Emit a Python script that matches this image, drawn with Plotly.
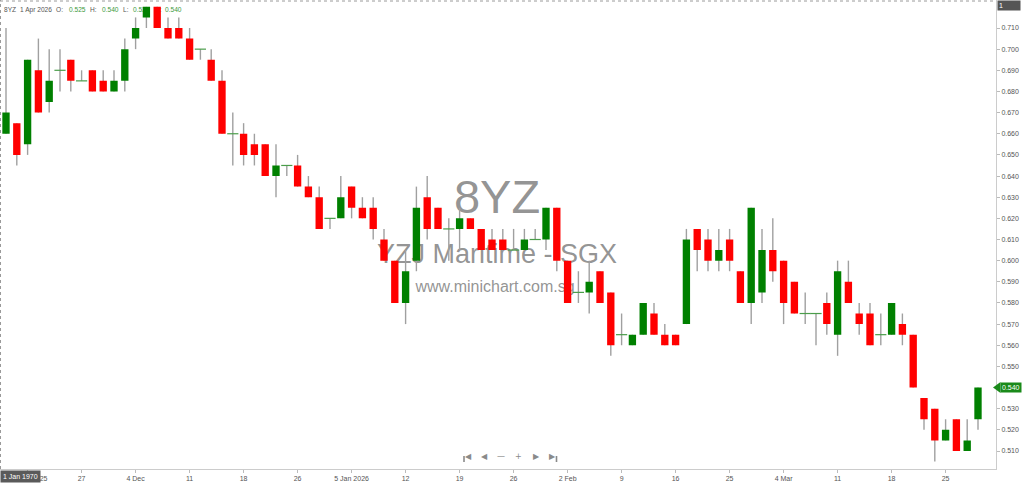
import plotly.graph_objects as go

# ---------------- data ----------------
opens = [0.660, 0.665, 0.655, 0.690, 0.675, 0.690, 0.695, 0.685, 0.690, 0.685,
         0.680, 0.685, 0.705, 0.715, 0.720, 0.710, 0.710, 0.705, 0.700, 0.695,
         0.685, 0.660, 0.660, 0.655, 0.655, 0.640, 0.645, 0.645, 0.635, 0.630,
         0.620, 0.620, 0.635, 0.625, 0.625, 0.610, 0.600, 0.580, 0.600, 0.630,
         0.625, 0.615, 0.615, 0.620, 0.615, 0.610, 0.610, 0.605, 0.605, 0.610,
         0.610, 0.625, 0.600, 0.585, 0.585, 0.595, 0.585, 0.565, 0.560, 0.565,
         0.575, 0.565, 0.565, 0.570, 0.615, 0.610, 0.600, 0.610, 0.595, 0.580,
         0.585, 0.605, 0.600, 0.590, 0.575, 0.575, 0.580, 0.565, 0.590, 0.575,
         0.575, 0.565, 0.565, 0.570, 0.565, 0.535, 0.530, 0.515, 0.525, 0.510,
         0.525]
highs = [0.710, 0.665, 0.695, 0.705, 0.700, 0.700, 0.695, 0.690, 0.690, 0.690,
         0.690, 0.705, 0.715, 0.720, 0.720, 0.715, 0.715, 0.710, 0.700, 0.700,
         0.690, 0.670, 0.665, 0.660, 0.655, 0.655, 0.645, 0.650, 0.640, 0.635,
         0.620, 0.640, 0.635, 0.630, 0.630, 0.615, 0.600, 0.605, 0.635, 0.640,
         0.625, 0.620, 0.625, 0.620, 0.615, 0.615, 0.615, 0.615, 0.615, 0.615,
         0.625, 0.625, 0.600, 0.595, 0.600, 0.595, 0.585, 0.575, 0.565, 0.580,
         0.580, 0.570, 0.565, 0.615, 0.615, 0.615, 0.615, 0.615, 0.595, 0.625,
         0.615, 0.620, 0.600, 0.590, 0.585, 0.575, 0.585, 0.600, 0.600, 0.580,
         0.580, 0.575, 0.580, 0.575, 0.565, 0.535, 0.530, 0.525, 0.525, 0.525,
         0.540]
lows = [0.660, 0.645, 0.650, 0.670, 0.670, 0.680, 0.680, 0.685, 0.680, 0.680,
        0.680, 0.680, 0.700, 0.710, 0.710, 0.705, 0.705, 0.695, 0.695, 0.685,
        0.660, 0.645, 0.645, 0.645, 0.640, 0.630, 0.640, 0.635, 0.630, 0.615,
        0.615, 0.620, 0.620, 0.620, 0.610, 0.600, 0.580, 0.570, 0.595, 0.610,
        0.615, 0.600, 0.605, 0.615, 0.605, 0.605, 0.605, 0.605, 0.605, 0.610,
        0.605, 0.595, 0.580, 0.580, 0.575, 0.580, 0.555, 0.560, 0.560, 0.565,
        0.565, 0.560, 0.560, 0.570, 0.595, 0.595, 0.595, 0.595, 0.580, 0.570,
        0.580, 0.590, 0.570, 0.575, 0.570, 0.560, 0.565, 0.555, 0.580, 0.565,
        0.560, 0.560, 0.565, 0.560, 0.540, 0.520, 0.505, 0.515, 0.510, 0.510,
        0.520]
closes = [0.670, 0.650, 0.695, 0.670, 0.685, 0.690, 0.685, 0.685, 0.680, 0.680,
          0.685, 0.700, 0.710, 0.720, 0.710, 0.705, 0.705, 0.695, 0.700, 0.685,
          0.660, 0.660, 0.650, 0.650, 0.640, 0.645, 0.645, 0.635, 0.630, 0.615,
          0.620, 0.630, 0.625, 0.620, 0.615, 0.600, 0.580, 0.595, 0.625, 0.615,
          0.615, 0.615, 0.620, 0.615, 0.605, 0.605, 0.605, 0.605, 0.610, 0.610,
          0.625, 0.600, 0.580, 0.585, 0.590, 0.580, 0.560, 0.565, 0.565, 0.580,
          0.565, 0.560, 0.560, 0.610, 0.605, 0.600, 0.605, 0.600, 0.580, 0.625,
          0.605, 0.595, 0.580, 0.575, 0.575, 0.575, 0.570, 0.595, 0.580, 0.570,
          0.560, 0.565, 0.580, 0.565, 0.540, 0.525, 0.515, 0.520, 0.510, 0.515,
          0.540]

tick_idx = [2, 7, 12, 17, 22, 27, 32, 37, 42, 47, 52, 57, 62, 67, 72, 77, 82, 87]
tick_labels = ["20 Nov 2025", "27", "4 Dec", "11", "18", "26", "5 Jan 2026", "12",
               "19", "26", "2 Feb", "9", "16", "25", "4 Mar", "11", "18", "25"]
y_ticks = [0.51, 0.52, 0.53, 0.54, 0.55, 0.56, 0.57, 0.58, 0.59, 0.60, 0.61,
           0.62, 0.63, 0.64, 0.65, 0.66, 0.67, 0.68, 0.69, 0.70, 0.71]

symbol = "8YZ"
company = "YZJ Maritime - SGX"
website = "www.minichart.com.sg"
last_date = "1 Apr 2026"

# ---------------- styling ----------------
GREEN = "#008000"
RED = "#ff0000"
WICK = "#a0a0a0"
FONT = "Liberation Sans"
NAV = "#8a8a8a"

n = len(opens)
xs = list(range(n))

# plot-area geometry (pixels)
W, H = 1024, 484
ML, MR, MT, MB = 0, 28, 0, 15
PW = W - ML - MR
PH = H - MT - MB
BAR_PX = 10.8
X0_PX = 6
x_range = [-X0_PX / BAR_PX, (PW - X0_PX) / BAR_PX]
PX_PER_UNIT = 2115.0
y_top = 0.71 + 28 / PX_PER_UNIT
y_bot = y_top - PH / PX_PER_UNIT


def pxx(p):
    return (p - ML) / PW


def pxy(p):
    return (MT + PH - p) / PH


def dxp(p):  # pixel -> data x
    return x_range[0] + (p - ML) / BAR_PX


def dyp(p):  # pixel -> data y
    return y_top - (p - MT) / PX_PER_UNIT


fig = go.Figure()

# watermark (behind candles)
wm = "rgba(120,120,120,0.8)"
for txt, px_, py_, sz in [(symbol, 497, 201, 47), (company, 497, 256, 27), (website, 495, 288, 16)]:
    fig.add_trace(go.Scatter(x=[dxp(px_)], y=[dyp(py_)], mode="text", text=[txt],
                             textposition="middle center",
                             textfont=dict(family=FONT, size=sz, color=wm),
                             hoverinfo="skip", showlegend=False, cliponaxis=False))

# header (behind candles)
hdr_gray = "#555555"
hdr_green = "#3c9a3c"
last = n - 1
hdr = [(4, symbol, hdr_gray), (20, last_date, hdr_gray),
       (56, "O:", hdr_gray), (69, f"{opens[last]:.3f}", hdr_green),
       (90, "H:", hdr_gray), (102, f"{highs[last]:.3f}", hdr_green),
       (123, "L:", hdr_gray), (133, f"{lows[last]:.3f}", hdr_green),
       (155, "C:", hdr_gray), (165, f"{closes[last]:.3f}", hdr_green)]
fig.add_trace(go.Scatter(x=[dxp(h[0]) for h in hdr], y=[dyp(10)] * len(hdr), mode="text",
                         text=[h[1] for h in hdr], textposition="middle right",
                         textfont=dict(family=FONT, size=6.6, color=[h[2] for h in hdr]),
                         hoverinfo="skip", showlegend=False, cliponaxis=False))

# wicks
wx, wy = [], []
for i in xs:
    wx += [i, i, None]
    wy += [lows[i], highs[i], None]
fig.add_trace(go.Scatter(x=wx, y=wy, mode="lines",
                         line=dict(color=WICK, width=1.4),
                         hoverinfo="skip", showlegend=False))

# bodies as filled rectangles
HALF = 0.34
for col, cond in [(GREEN, lambda o, c: c > o), (RED, lambda o, c: c < o)]:
    bx, by = [], []
    for i in xs:
        o, c = opens[i], closes[i]
        if cond(o, c):
            lo, hi = min(o, c), max(o, c)
            bx += [i - HALF, i + HALF, i + HALF, i - HALF, i - HALF, None]
            by += [lo, lo, hi, hi, lo, None]
    fig.add_trace(go.Scatter(x=bx, y=by, mode="lines", fill="toself", fillcolor=col,
                             line=dict(width=0, color=col),
                             hoverinfo="skip", showlegend=False))

# doji marks
dx = [i for i in xs if abs(closes[i] - opens[i]) < 1e-9]
dy = [closes[i] for i in dx]
fig.add_trace(go.Scatter(x=dx, y=dy, mode="markers",
                         marker=dict(symbol="line-ew", size=8,
                                     line=dict(color="#4a9d4a", width=1.2)),
                         hoverinfo="skip", showlegend=False))

ann = []
# top-right "1" box
ann.append(dict(text="1 ", x=pxx(997), y=1, xref="paper", yref="paper",
                xanchor="left", yanchor="top", showarrow=False, width=20, align="left",
                bgcolor="#555555", borderpad=1,
                font=dict(family=FONT, size=7, color="white")))
# bottom-left date box
ann.append(dict(text="1 Jan 1970", x=0, y=pxy(476), xref="paper", yref="paper",
                xanchor="left", yanchor="middle", showarrow=False,
                bgcolor="#5a5a5a", borderpad=2,
                font=dict(family=FONT, size=7, color="white")))
# last price tag
ann.append(dict(text=f"{closes[last]:.3f}", x=pxx(1000), y=closes[last], xref="paper", yref="y",
                xanchor="left", yanchor="middle", showarrow=False,
                bgcolor="#1a8a1a", borderpad=1,
                font=dict(family=FONT, size=7, color="white")))

# navigation controls
NAV_Y = 459
nav = [(468, "◀"), (484, "◀"), (501, "—"), (518, "+"), (536, "▶"), (552, "▶")]
for px_, t in nav:
    ann.append(dict(text=t, x=pxx(px_), y=pxy(NAV_Y + 3.5), xref="paper", yref="paper",
                    showarrow=False, font=dict(family="DejaVu Sans", size=8, color=NAV)))

shapes = [
    dict(type="line", xref="paper", yref="paper", x0=0, x1=1, y0=pxy(1), y1=pxy(1),
         line=dict(color="#9a9a9a", width=1, dash="dot")),
    dict(type="line", xref="paper", yref="paper", x0=pxx(0.5), x1=pxx(0.5), y0=0, y1=1,
         line=dict(color="#9a9a9a", width=1, dash="dot")),
    dict(type="path", xref="paper", yref="y",
         path=f"M {pxx(993)},{closes[last]} L {pxx(1000.5)},{closes[last] + 5.5 / PX_PER_UNIT} "
              f"L {pxx(1000.5)},{closes[last] - 5.5 / PX_PER_UNIT} Z",
         fillcolor="#1a8a1a", line=dict(width=0)),
    # bars of the first / last navigation buttons
    dict(type="line", xref="paper", yref="paper", x0=pxx(464), x1=pxx(464),
         y0=pxy(NAV_Y - 3), y1=pxy(NAV_Y + 3), line=dict(color=NAV, width=1.6)),
    dict(type="line", xref="paper", yref="paper", x0=pxx(556.5), x1=pxx(556.5),
         y0=pxy(NAV_Y - 3), y1=pxy(NAV_Y + 3), line=dict(color=NAV, width=1.6)),
]

fig.update_layout(
    width=W, height=H,
    margin=dict(l=ML, r=MR, t=MT, b=MB, pad=0),
    paper_bgcolor="white", plot_bgcolor="white",
    showlegend=False, hovermode=False,
    annotations=ann, shapes=shapes,
    xaxis=dict(range=x_range, tickvals=tick_idx, ticktext=tick_labels,
               showgrid=False, zeroline=False, showline=True, linecolor="#cccccc",
               ticks="outside", ticklen=3, tickcolor="#bbbbbb",
               tickfont=dict(family=FONT, size=7, color="#555555"), automargin=False,
               fixedrange=True),
    yaxis=dict(range=[y_bot, y_top], side="right", tickvals=y_ticks,
               tickformat=".3f", showgrid=False, zeroline=False, showline=True,
               linecolor="#cccccc", ticks="outside", ticklen=3, tickcolor="#bbbbbb",
               tickfont=dict(family=FONT, size=7, color="#555555"), automargin=False,
               fixedrange=True),
)

fig.write_html("out.html", config={"displayModeBar": False},
               post_script="document.body.style.margin='0';document.body.style.overflow='hidden';")
